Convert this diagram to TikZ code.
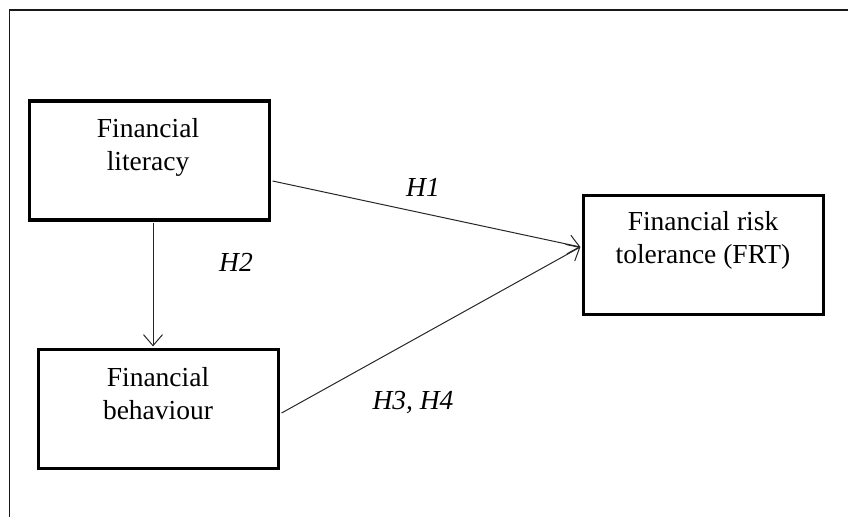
\documentclass[tikz,border=0pt]{standalone}
\usepackage{fontspec}
\setmainfont{Liberation Serif}
\usetikzlibrary{arrows.meta}
\begin{document}
\begin{tikzpicture}[x=1pt,y=-1pt,
  box/.style={draw=black, line width=3.2pt, minimum width=240pt, minimum height=119pt, inner sep=0pt},
  txt/.style={align=center, font=\fontsize{27.5}{33}\selectfont, inner sep=0pt},
  hyp/.style={font=\fontsize{27.5}{33}\selectfont\itshape, inner sep=0pt},
  conn/.style={draw=black!85, line width=1pt, -{Straight Barb[length=11pt,width=19pt,line width=1pt]}},
  frame/.style={draw=black!90, line width=1.2pt}]
\useasboundingbox (0,0) rectangle (848,517);
\coordinate (fa) at (9.5,517);
\coordinate (fb0) at (9.5,10);
\coordinate (fc) at (848,10);
\draw[frame] (fa) -- (fb0) -- (fc);
\node[box] (fl) at (149.5,160.5) {};
\node[box] (fb) at (158.5,409) {};
\node[box] (frt) at (703.5,255) {};
\node[txt] (tfl) at (148,147.5) {Financial\\literacy};
\node[txt] (tfb) at (158,393.5) {Financial\\behaviour};
\node[txt] (tfrt) at (703,240.5) {Financial risk\\tolerance (FRT)};
\coordinate (tip) at ([yshift=8pt,xshift=-1.5pt]frt.west);
\draw[conn] ([yshift=-20.5pt,xshift=1.5pt]fl.east) -- (tip);
\draw[conn] ([yshift=-4pt,xshift=1.5pt]fb.east) -- (tip);
\draw[conn] ([xshift=3.5pt,yshift=-1.5pt]fl.south) -- ([xshift=3.5pt,yshift=1.5pt]fl.south |- fb.north);
\node[hyp] (h1) at (423,187) {H1};
\node[hyp] (h2) at (236,262) {H2};
\node[hyp] (h34) at (413,403) {H3, H4};
\end{tikzpicture}
\end{document}
